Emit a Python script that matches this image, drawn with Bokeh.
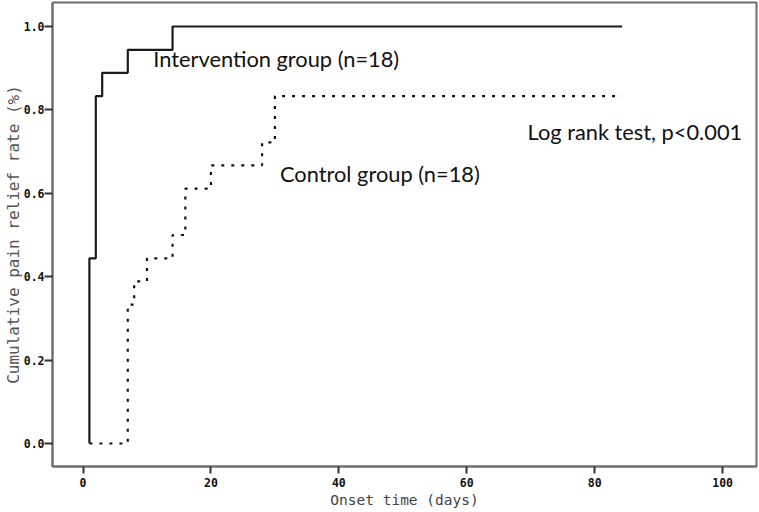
from bokeh.plotting import figure
from bokeh.models import Range1d, ColumnDataSource, FixedTicker, NumeralTickFormatter
from bokeh.core.properties import value
from bokeh.embed import file_html
from bokeh.resources import INLINE

# ---- data ----
intervention_days = [1, 1, 2, 3, 7, 14, 84.3]
intervention_rate = [0.0, 0.444, 0.833, 0.889, 0.944, 1.0, 1.0]

control_days = [1, 7, 8, 10, 14, 16, 20, 28, 30, 84.3]
control_rate = [0.0, 0.333, 0.389, 0.444, 0.5, 0.611, 0.667, 0.722, 0.833, 0.833]

x_ticks = [0, 20, 40, 60, 80, 100]
y_ticks = [0.0, 0.2, 0.4, 0.6, 0.8, 1.0]

x_title = "Onset time (days)"
y_title = "Cumulative pain relief rate (%)"

note_texts = ["Intervention group (n=18)", "Control group (n=18)", "Log rank test, p<0.001"]
note_x = [11.0, 30.8, 69.5]
note_y = [0.9225, 0.648, 0.749]

# ---- figure ----
p = figure(width=759, height=512,
           x_range=Range1d(-4.77, 105.3), y_range=Range1d(-0.0552, 1.0576),
           output_backend="svg", toolbar_location=None,
           min_border_left=52, min_border_right=3, min_border_top=2, min_border_bottom=46)
p.xgrid.visible = False
p.ygrid.visible = False
p.background_fill_color = "white"
p.border_fill_color = "white"
p.outline_line_color = "#6e6e6e"
p.outline_line_width = 2
p.outline_line_alpha = 1.0

p.xaxis.ticker = FixedTicker(ticks=x_ticks)
p.yaxis.ticker = FixedTicker(ticks=y_ticks)
p.yaxis.formatter = NumeralTickFormatter(format="0.0")
p.xaxis.axis_label = x_title
p.yaxis.axis_label = y_title

for ax in (p.xaxis[0], p.yaxis[0]):
    ax.axis_line_color = "#6e6e6e"
    ax.axis_line_width = 2
    ax.major_tick_line_color = "#333333"
    ax.major_tick_line_width = 2
    ax.major_tick_in = 0
    ax.minor_tick_line_color = None
    ax.major_label_text_font = "DejaVu Sans Mono"
    ax.major_label_text_font_style = "bold"
    ax.major_label_text_font_size = "11.5px"
    ax.major_label_text_color = "#111111"
    ax.axis_label_text_font = "DejaVu Sans Mono"
    ax.axis_label_text_font_style = "normal"

p.yaxis.major_tick_out = 8
p.yaxis.major_label_standoff = 0
p.yaxis.axis_label_standoff = -2
p.yaxis.axis_label_text_font_size = "16px"
p.yaxis.axis_label_text_color = "#555555"

p.xaxis.major_tick_out = 7
p.xaxis.major_label_standoff = 4
p.xaxis.axis_label_standoff = 2
p.xaxis.axis_label_text_font_size = "14.5px"
p.xaxis.axis_label_text_color = "#444444"

p.step(intervention_days, intervention_rate, mode="after",
       line_color="#1a1a1a", line_width=2.2)
p.step(control_days, control_rate, mode="after",
       line_color="#111111", line_width=2.2, line_dash="3 7")

src = ColumnDataSource(data=dict(x=note_x, y=note_y, text=note_texts))
p.text(x="x", y="y", text="text", source=src,
       text_font=value("Lato"), text_font_size="21.8px",
       text_align="left", text_baseline="alphabetic", text_color="#111111")

open("out.html", "w").write(file_html(p, INLINE))
